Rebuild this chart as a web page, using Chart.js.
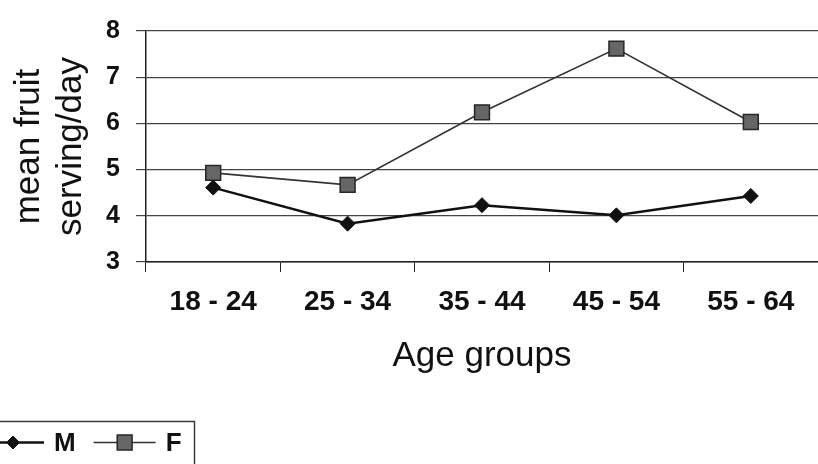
<!DOCTYPE html>
<html>
<head>
<meta charset="utf-8">
<script src="https://cdn.jsdelivr.net/npm/chart.js@4/dist/chart.umd.min.js"></script>
<style>
  html, body { margin: 0; padding: 0; overflow: hidden; background: #fff; }
  #wrap { width: 830px; height: 464px; }
</style>
</head>
<body>
<div id="wrap"><canvas id="c" width="830" height="464"></canvas></div>
<script>
// Age groups on the category axis
const categories = ['18 - 24', '25 - 34', '35 - 44', '45 - 54', '55 - 64'];
// Mean fruit servings per day
const maleServings = [4.61, 3.83, 4.23, 4.01, 4.43];
const femaleServings = [4.93, 4.67, 6.24, 7.62, 6.03];
// Value axis range and step
const yMin = 3;
const yMax = 8;
const yStep = 1;

const FONT = '"Liberation Sans", Arial, Helvetica, sans-serif';

function drawMarker(ctx, style, x, y, r, fill, stroke, lw) {
  ctx.beginPath();
  if (style === 'rectRot') {
    ctx.moveTo(x - r, y);
    ctx.lineTo(x, y - r);
    ctx.lineTo(x + r, y);
    ctx.lineTo(x, y + r);
    ctx.closePath();
  } else {
    const s = Math.SQRT1_2 * r;
    ctx.rect(x - s, y - s, 2 * s, 2 * s);
  }
  ctx.fillStyle = fill;
  ctx.fill();
  ctx.lineWidth = lw;
  ctx.strokeStyle = stroke;
  ctx.stroke();
}

// Boxed legend in the lower-left corner: line + marker + label per series
const boxLegend = {
  id: 'boxLegend',
  afterDraw(chart, args, opts) {
    const ctx = chart.ctx;
    ctx.save();
    ctx.strokeStyle = '#3a3a3a';
    ctx.lineWidth = 1.5;
    ctx.strokeRect(opts.x, opts.y, opts.width, opts.height);
    let x = opts.startX;
    const cy = opts.y + opts.rowY;
    ctx.font = 'bold ' + opts.fontSize + 'px ' + FONT;
    ctx.textBaseline = 'middle';
    ctx.textAlign = 'left';
    chart.data.datasets.forEach((ds, i) => {
      ctx.strokeStyle = ds.borderColor;
      ctx.lineWidth = ds.borderWidth;
      ctx.beginPath();
      ctx.moveTo(x, cy);
      ctx.lineTo(x + opts.lineLen, cy);
      ctx.stroke();
      drawMarker(ctx, ds.pointStyle, x + opts.lineLen / 2, cy,
        opts.markerRadius[i], ds.pointBackgroundColor, ds.pointBorderColor, ds.pointBorderWidth);
      x += opts.lineLen + opts.textGap;
      ctx.fillStyle = '#111';
      ctx.fillText(ds.label, x, cy + 1);
      x += ctx.measureText(ds.label).width + opts.itemGap;
    });
    ctx.restore();
  }
};

new Chart(document.getElementById('c'), {
  type: 'line',
  data: {
    labels: categories,
    datasets: [
      {
        label: 'M',
        data: maleServings,
        borderColor: '#111',
        borderWidth: 2.5,
        pointStyle: 'rectRot',
        pointRadius: 7.5,
        pointBackgroundColor: '#111',
        pointBorderColor: '#111',
        pointBorderWidth: 1,
        tension: 0
      },
      {
        label: 'F',
        data: femaleServings,
        borderColor: '#333',
        borderWidth: 1.6,
        pointStyle: 'rect',
        pointRadius: 10.5,
        pointBackgroundColor: '#666',
        pointBorderColor: '#262626',
        pointBorderWidth: 1.5,
        tension: 0
      }
    ]
  },
  options: {
    responsive: false,
    animation: false,
    devicePixelRatio: 1,
    layout: { padding: { left: 0, top: 19.5, right: 6, bottom: 84 } },
    plugins: {
      legend: { display: false },
      tooltip: { enabled: false },
      boxLegend: {
        x: -2, y: 421.5, width: 196.5, height: 60,
        rowY: 21, startX: -18, lineLen: 62, textGap: 10, itemGap: 18,
        fontSize: 26, markerRadius: [6.5, 10.5]
      }
    },
    scales: {
      x: {
        offset: true,
        afterFit: (s) => { s.height = 118; },
        grid: {
          offset: true,
          drawOnChartArea: false,
          drawTicks: true,
          tickLength: 10,
          color: '#222',
          lineWidth: 1
        },
        border: { color: '#222', width: 1.5 },
        ticks: {
          color: '#111',
          padding: 13,
          maxRotation: 0,
          font: { family: FONT, size: 28, weight: 'bold' }
        },
        title: {
          display: true,
          text: 'Age groups',
          color: '#111',
          padding: { top: 0, bottom: 3 },
          font: { family: FONT, size: 35, lineHeight: 1.2 }
        }
      },
      y: {
        min: yMin,
        max: yMax,
        afterFit: (s) => { s.width = 146; },
        grid: {
          color: '#444',
          lineWidth: 1.2,
          tickLength: 10
        },
        border: { color: '#222', width: 1.5 },
        ticks: {
          stepSize: yStep,
          color: '#111',
          padding: 16,
          font: { family: FONT, size: 25, weight: 'bold' }
        },
        title: {
          display: true,
          text: ['mean fruit', 'serving/day'],
          color: '#111',
          padding: { top: 9, bottom: 0 },
          font: { family: FONT, size: 35, lineHeight: 1.186 }
        }
      }
    }
  },
  plugins: [boxLegend]
});
</script>
</body>
</html>
